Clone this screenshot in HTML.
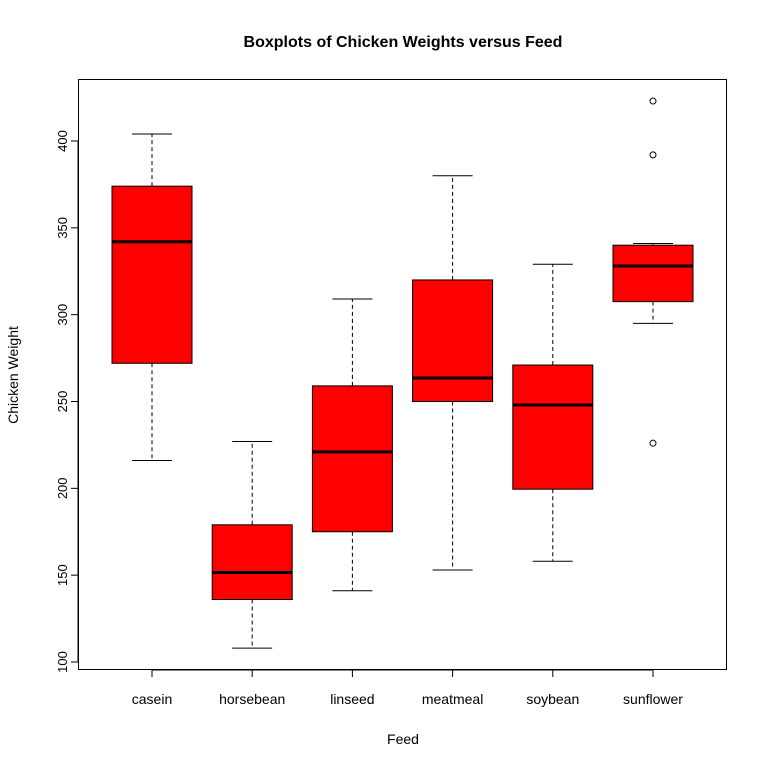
<!DOCTYPE html>
<html><head><meta charset="utf-8"><style>
body{margin:0;background:#fff}
svg{display:block;font-family:"Liberation Sans",Arial,sans-serif}
</style></head><body>
<svg id="chart" width="768" height="768">
<rect x="0" y="0" width="768" height="768" fill="#fff"/>
<text x="403" y="47" text-anchor="middle" font-size="16" font-weight="bold">Boxplots of Chicken Weights versus Feed</text>
<text x="403" y="744" text-anchor="middle" font-size="14">Feed</text>
<text transform="translate(18,375) rotate(-90)" text-anchor="middle" font-size="14">Chicken Weight</text>
<rect x="78.5" y="79.5" width="648" height="590" fill="none" stroke="#000"/>
<g id="marks"></g>
</svg>
<script>
const categories = ["casein","horsebean","linseed","meatmeal","soybean","sunflower"];
const mins = [216,108,141,153,158,295];
const q1s = [272,136,175,250,199.5,307.5];
const medians = [342,151.5,221,263.5,248,328];
const q3s = [374,179,259,320,271,340];
const maxs = [404,227,309,380,329,341];
const outliers = [[],[],[],[],[],[423,392,226]];
const yTicks = [100,150,200,250,300,350,400];

const NS = "http://www.w3.org/2000/svg";
const g = document.getElementById('marks');
function y(v){ return 662 - (v - 100) * 521 / 300; }
function x(i){ return 152 + i * 100.2; }
function el(tag, attrs){ const e = document.createElementNS(NS, tag); for (const k in attrs) e.setAttribute(k, attrs[k]); g.appendChild(e); return e; }

yTicks.forEach(t => {
  const tk = el('line',{x1:71,x2:78,y1:y(t),y2:y(t),stroke:'#000'});
  
  
  const lb = el('text',{transform:`translate(67,${y(t)}) rotate(-90)`,'text-anchor':'middle','font-size':13});
  lb.textContent = t;
  
  
});
const ax = el('line',{x1:78,x2:78,y1:y(100),y2:y(400),stroke:'#000'});



categories.forEach((c, i) => {
  const cx = x(i), hw = 40;
  const w1 = el('line',{x1:cx,x2:cx,y1:y(q3s[i]),y2:y(maxs[i]),stroke:'#000','stroke-dasharray':'4,3'});
  
  
  const w2 = el('line',{x1:cx,x2:cx,y1:y(q1s[i]),y2:y(mins[i]),stroke:'#000','stroke-dasharray':'4,3'});
  
  
  const c1 = el('line',{x1:cx-20,x2:cx+20,y1:y(maxs[i]),y2:y(maxs[i]),stroke:'#000'});
  
  
  const c2 = el('line',{x1:cx-20,x2:cx+20,y1:y(mins[i]),y2:y(mins[i]),stroke:'#000'});
  
  
  const b = el('rect',{x:cx-hw,y:y(q3s[i]),width:hw*2,height:y(q1s[i])-y(q3s[i]),fill:'#ff0000',stroke:'#000'});
  
  
  const m = el('line',{x1:cx-hw,x2:cx+hw,y1:y(medians[i]),y2:y(medians[i]),stroke:'#000','stroke-width':3});
  
  
  outliers[i].forEach(o => {
    const p = el('circle',{cx:cx,cy:y(o),r:3,fill:'none',stroke:'#000'});
    
    
  });
  const tk = el('line',{x1:cx,x2:cx,y1:670,y2:677,stroke:'#000'});
  
  
  const lb = el('text',{x:cx,y:704,'text-anchor':'middle','font-size':14});
  lb.textContent = c;
  
  
});
const xa = el('line',{x1:x(0),x2:x(5),y1:670,y2:670,stroke:'#000'});


</script>
</body></html>
